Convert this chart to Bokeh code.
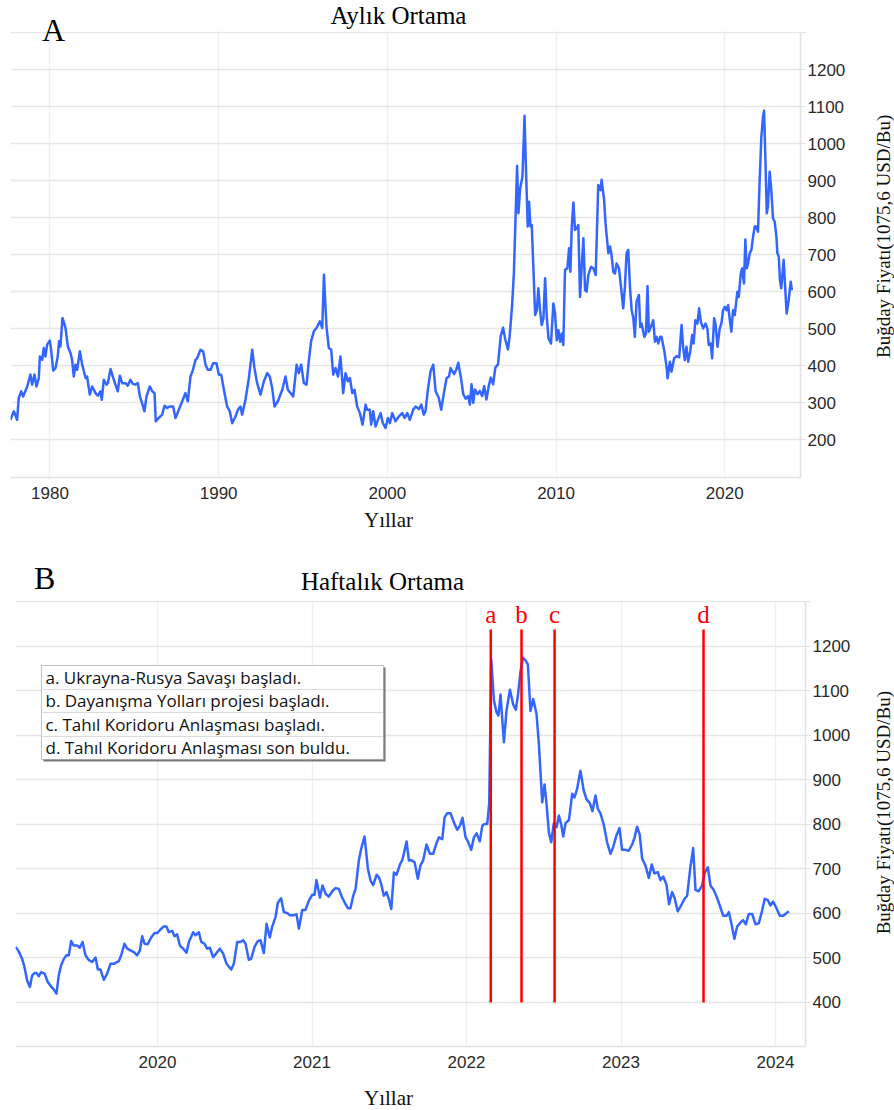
import math
from bokeh.plotting import figure
from bokeh.models import Range1d, FixedTicker, Label, BoxAnnotation
from bokeh.layouts import column, row
from bokeh.embed import file_html
from bokeh.resources import INLINE
from bokeh.core.properties import value

# ---------------- data: monthly average (chart A) ----------------
monthly_years = [
    1977.66, 1977.86, 1978.05, 1978.15, 1978.29, 1978.41, 1978.65, 1978.84, 1978.94, 1979.08, 1979.20, 1979.34, 1979.40, 1979.54, 1979.63, 1979.73, 1979.83, 1979.99,
    1980.07, 1980.19, 1980.33, 1980.46, 1980.54, 1980.62, 1980.74, 1980.92, 1981.06, 1981.22, 1981.31, 1981.41, 1981.51, 1981.61, 1981.77, 1981.91,
    1982.11, 1982.20, 1982.36, 1982.50, 1982.70, 1982.84, 1982.99, 1983.07, 1983.19, 1983.35, 1983.43, 1983.59, 1983.75, 1983.88,
    1984.02, 1984.14, 1984.28, 1984.48, 1984.61, 1984.77, 1984.91, 1985.07, 1985.21, 1985.33, 1985.46, 1985.60, 1985.72, 1985.92,
    1986.06, 1986.20, 1986.27, 1986.45, 1986.65, 1986.79, 1986.95, 1987.10, 1987.30, 1987.44, 1987.64, 1987.84,
    1988.03, 1988.17, 1988.33, 1988.45, 1988.63, 1988.73, 1988.92, 1989.08, 1989.22, 1989.36, 1989.52, 1989.67, 1989.87,
    1990.01, 1990.15, 1990.31, 1990.50, 1990.66, 1990.80, 1991.00, 1991.14, 1991.29, 1991.39, 1991.59, 1991.79, 1991.99,
    1992.12, 1992.28, 1992.48, 1992.68, 1992.88, 1993.03, 1993.17, 1993.31, 1993.51, 1993.77, 1993.96,
    1994.10, 1994.26, 1994.42, 1994.62, 1994.75, 1994.89, 1995.05, 1995.21, 1995.35, 1995.48, 1995.64, 1995.80,
    1996.00, 1996.14, 1996.24, 1996.39, 1996.53, 1996.67, 1996.79, 1996.93, 1997.07, 1997.22, 1997.38, 1997.52, 1997.66, 1997.78, 1997.92,
    1998.05, 1998.21, 1998.37, 1998.53, 1998.71, 1998.80, 1998.96, 1999.04, 1999.16, 1999.30, 1999.44, 1999.60, 1999.73, 1999.89,
    2000.03, 2000.15, 2000.29, 2000.48, 2000.68, 2000.88, 2001.02, 2001.18, 2001.33, 2001.53, 2001.67, 2001.87,
    2002.01, 2002.16, 2002.26, 2002.40, 2002.56, 2002.72, 2002.86, 2003.05, 2003.19, 2003.35, 2003.51, 2003.65, 2003.75,
    2003.95, 2004.09, 2004.20, 2004.36, 2004.50, 2004.64, 2004.79, 2004.89, 2004.99, 2005.09, 2005.19, 2005.34, 2005.48, 2005.62, 2005.74, 2005.87,
    2006.01, 2006.13, 2006.27, 2006.40, 2006.56, 2006.72, 2006.86, 2006.99, 2007.15, 2007.25, 2007.39, 2007.50,
    2007.69, 2007.77, 2007.87, 2008.01, 2008.13, 2008.21, 2008.32, 2008.40, 2008.48, 2008.56, 2008.76, 2008.86, 2008.95,
    2009.05, 2009.15, 2009.25, 2009.35, 2009.45, 2009.55, 2009.70, 2009.84, 2009.94,
    2010.04, 2010.14, 2010.24, 2010.34, 2010.43, 2010.53, 2010.67, 2010.77, 2010.85, 2010.93,
    2011.03, 2011.12, 2011.22, 2011.32, 2011.42, 2011.52, 2011.62, 2011.72, 2011.81, 2011.91,
    2012.07, 2012.21, 2012.35, 2012.50, 2012.64, 2012.70, 2012.84, 2012.94,
    2013.10, 2013.20, 2013.29, 2013.39, 2013.49, 2013.59, 2013.73, 2013.85, 2013.98,
    2014.08, 2014.18, 2014.28, 2014.38, 2014.48, 2014.58, 2014.67, 2014.77, 2014.91, 2014.99,
    2015.07, 2015.23, 2015.33, 2015.42, 2015.50, 2015.62, 2015.76, 2015.86, 2015.96,
    2016.06, 2016.17, 2016.25, 2016.41, 2016.55, 2016.61, 2016.75, 2016.84,
    2017.00, 2017.14, 2017.30, 2017.44, 2017.53, 2017.63, 2017.73, 2017.83, 2017.95,
    2018.07, 2018.15, 2018.26, 2018.38, 2018.48, 2018.58, 2018.72, 2018.86, 2018.97,
    2019.05, 2019.17, 2019.25, 2019.37, 2019.45, 2019.57, 2019.70, 2019.80, 2019.90,
    2020.00, 2020.10, 2020.20, 2020.30, 2020.39, 2020.49, 2020.59, 2020.75, 2020.83, 2020.95,
    2021.03, 2021.14, 2021.22, 2021.30, 2021.38, 2021.48, 2021.58, 2021.68, 2021.78, 2021.87, 2021.97,
    2022.07, 2022.17, 2022.27, 2022.33, 2022.41, 2022.49, 2022.56, 2022.66, 2022.76, 2022.86, 2022.96,
    2023.06, 2023.12, 2023.20, 2023.27, 2023.35, 2023.49, 2023.59, 2023.67, 2023.79, 2023.91, 2023.98,
]
monthly_price = [
    254, 277, 254, 313, 331, 317, 344, 376, 349, 376, 344, 367, 425, 416, 448, 425, 457, 468,
    443, 387, 394, 425, 466, 452, 529, 502, 452, 434, 416, 371, 403, 389, 439, 403,
    367, 371, 322, 344, 326, 319, 331, 308, 362, 349, 353, 391, 367, 349,
    331, 373, 353, 353, 346, 362, 351, 349, 353, 317, 299, 277, 317, 344,
    331, 326, 250, 259, 268, 292, 286, 290, 290, 259, 281, 304,
    326, 304, 371, 385, 416, 421, 443, 439, 403, 389, 389, 407, 407,
    376, 376, 335, 290, 277, 245, 263, 281, 290, 268, 308, 367, 443,
    394, 353, 322, 358, 380, 371, 340, 290, 304, 335, 371,
    335, 326, 317, 403, 380, 403, 353, 349, 416, 466, 493, 502,
    520, 502, 646, 506, 448, 443, 376, 394, 371, 425, 326, 380, 358, 367, 326,
    335, 290, 272, 241, 295, 281, 281, 241, 277, 236, 254, 272, 245, 232,
    259, 245, 272, 250, 263, 272, 259, 272, 254, 281, 290, 283,
    295, 268, 277, 335, 385, 403, 331, 313, 281, 326, 367, 371, 394,
    377, 390, 408, 368, 323, 311, 318, 295, 350, 300, 336, 323, 332, 318, 345, 309,
    345, 368, 350, 395, 404, 480, 503, 471, 444, 480, 561, 651,
    940, 812, 879, 911, 1075, 942, 776, 843, 776, 780, 537, 550, 609,
    550, 510, 528, 636, 532, 474, 460, 568, 541,
    469, 496, 465, 487, 456, 659, 663, 717, 654, 776,
    841, 767, 771, 780, 586, 667, 744, 604, 600, 645,
    667, 663, 645, 888, 874, 902, 852, 780,
    704, 722, 699, 654, 649, 676, 663, 613, 555,
    613, 704, 713, 613, 550, 528, 478, 573, 591, 505,
    514, 478, 487, 615, 492, 505, 523, 465, 478,
    460, 478, 478, 442, 397, 366, 411, 384,
    420, 426, 423, 510, 451, 415, 451, 411, 438,
    483, 460, 523, 514, 555, 519, 501, 514, 501,
    456, 460, 420, 528, 514, 451, 501, 514, 550,
    559, 550, 564, 523, 492, 550, 537, 600, 586, 649,
    663, 622, 741, 663, 676, 704, 713, 749, 776, 776, 762,
    902, 1019, 1073, 1089, 956, 812, 830, 924, 874, 798, 789,
    749, 704, 695, 632, 609, 686, 604, 541, 577, 627, 604,
]

# ---------------- data: weekly average (chart B) ----------------
weekly_years = [
    2019.081, 2019.100, 2019.124, 2019.139, 2019.156, 2019.174, 2019.189, 2019.204, 2019.217, 2019.232,
    2019.247, 2019.269, 2019.290, 2019.307, 2019.329, 2019.346, 2019.361, 2019.376, 2019.394, 2019.411,
    2019.426, 2019.441, 2019.458, 2019.480, 2019.497, 2019.515, 2019.534, 2019.556, 2019.577, 2019.599,
    2019.614, 2019.631, 2019.653, 2019.674, 2019.696, 2019.717, 2019.750, 2019.765, 2019.786, 2019.804,
    2019.825, 2019.847, 2019.868, 2019.886, 2019.901, 2019.916, 2019.937, 2019.959, 2019.981, 2019.998,
    2020.019, 2020.041, 2020.058, 2020.073, 2020.095, 2020.110, 2020.127, 2020.145, 2020.166, 2020.188,
    2020.203, 2020.231, 2020.246, 2020.268, 2020.283, 2020.304, 2020.321, 2020.339, 2020.360, 2020.382,
    2020.403, 2020.425, 2020.447, 2020.468, 2020.477, 2020.494, 2020.516, 2020.537, 2020.554, 2020.570,
    2020.591, 2020.606, 2020.628, 2020.649, 2020.667, 2020.688, 2020.706, 2020.727, 2020.742, 2020.764,
    2020.779, 2020.800, 2020.818, 2020.839, 2020.857, 2020.878, 2020.900, 2020.915, 2020.937, 2020.958,
    2020.980, 2021.001, 2021.016, 2021.029, 2021.051, 2021.068, 2021.088, 2021.109, 2021.131, 2021.152,
    2021.174, 2021.195, 2021.217, 2021.232, 2021.249, 2021.267, 2021.282, 2021.303, 2021.318, 2021.340,
    2021.362, 2021.379, 2021.396, 2021.418, 2021.433, 2021.448, 2021.465, 2021.482, 2021.497, 2021.513,
    2021.530, 2021.547, 2021.569, 2021.584, 2021.595, 2021.612, 2021.627, 2021.642, 2021.664, 2021.685,
    2021.702, 2021.720, 2021.741, 2021.763, 2021.784, 2021.806, 2021.821, 2021.843, 2021.858, 2021.875,
    2021.897, 2021.918, 2021.940, 2021.957, 2021.974, 2021.994, 2022.009, 2022.030, 2022.048, 2022.065,
    2022.086, 2022.102, 2022.117, 2022.134, 2022.147, 2022.160, 2022.177, 2022.194, 2022.207, 2022.220,
    2022.242, 2022.259, 2022.281, 2022.302, 2022.319, 2022.332, 2022.350, 2022.365, 2022.382, 2022.397,
    2022.414, 2022.432, 2022.453, 2022.468, 2022.490, 2022.505, 2022.518, 2022.533, 2022.548, 2022.565,
    2022.583, 2022.598, 2022.613, 2022.626, 2022.641, 2022.663, 2022.684, 2022.699, 2022.716, 2022.737,
    2022.759, 2022.776, 2022.798, 2022.815, 2022.835, 2022.850, 2022.867, 2022.888, 2022.910, 2022.932,
    2022.949, 2022.970, 2022.990, 2023.007, 2023.029, 2023.050, 2023.072, 2023.087, 2023.104, 2023.121,
    2023.137, 2023.158, 2023.180, 2023.199, 2023.216, 2023.238, 2023.255, 2023.273, 2023.294, 2023.311,
    2023.331, 2023.346, 2023.367, 2023.389, 2023.411, 2023.428, 2023.449, 2023.467, 2023.482, 2023.503,
    2023.525, 2023.542, 2023.562, 2023.579, 2023.600, 2023.622, 2023.639, 2023.661, 2023.682, 2023.698,
    2023.713, 2023.734, 2023.751, 2023.773, 2023.790, 2023.808, 2023.827, 2023.849, 2023.870, 2023.892,
    2023.913, 2023.930, 2023.950, 2023.967, 2023.984, 2024.006, 2024.028, 2024.049, 2024.064, 2024.086,
]
weekly_price = [
    525, 516, 498, 480, 450, 435, 461, 466, 466, 459,
    468, 465, 446, 438, 429, 420, 461, 483, 498, 506,
    506, 538, 528, 528, 523, 536, 506, 495, 491, 501,
    474, 474, 451, 465, 487, 487, 493, 506, 532, 521,
    517, 513, 506, 517, 549, 532, 531, 546, 556, 556,
    564, 571, 571, 558, 561, 549, 553, 528, 521, 512,
    536, 558, 551, 558, 536, 532, 521, 523, 502, 511,
    521, 510, 487, 478, 474, 487, 536, 536, 540, 532,
    496, 498, 525, 538, 540, 511, 577, 546, 570, 592,
    624, 634, 603, 601, 596, 596, 598, 566, 608, 608,
    629, 642, 642, 675, 636, 663, 644, 638, 650, 657,
    655, 636, 621, 612, 612, 640, 655, 719, 745, 773,
    700, 674, 664, 687, 681, 666, 640, 648, 633, 610,
    692, 687, 710, 720, 735, 762, 719, 720, 715, 678,
    708, 720, 755, 734, 734, 758, 771, 767, 816, 825,
    825, 805, 788, 797, 815, 771, 762, 743, 771, 780,
    762, 797, 801, 801, 848, 1172, 1080, 1052, 1045, 1092,
    985, 1056, 1103, 1070, 1058, 1088, 1145, 1175, 1169, 1160,
    1055, 1082, 1049, 983, 850, 890, 846, 782, 760, 803,
    794, 820, 800, 773, 803, 810, 869, 861, 880, 921,
    876, 857, 848, 830, 865, 835, 825, 800, 760, 734,
    749, 775, 792, 743, 743, 741, 755, 770, 795, 777,
    723, 708, 680, 710, 690, 693, 675, 683, 665, 621,
    648, 636, 605, 618, 633, 640, 704, 747, 653, 650,
    663, 692, 704, 663, 653, 635, 618, 595, 595, 603,
    580, 543, 570, 580, 585, 576, 599, 599, 576, 578,
    606, 633, 630, 618, 627, 612, 595, 595, 599, 605,
]

# events (chart B)
event_dates = [2022.157, 2022.356, 2022.570, 2023.534]
event_letters = ["a", "b", "c", "d"]
event_line_bottom = 400
event_line_top = 1238
legend_texts = [
    "a. Ukrayna-Rusya Savaşı başladı.",
    "b. Dayanışma Yolları projesi başladı.",
    "c. Tahıl Koridoru Anlaşması başladı.",
    "d. Tahıl Koridoru Anlaşması son buldu.",
]

# ticks
a_xticks = [1980, 1990, 2000, 2010, 2020]
a_yticks = [200, 300, 400, 500, 600, 700, 800, 900, 1000, 1100, 1200, 1300]
b_xticks = [2020, 2021, 2022, 2023, 2024]
b_yticks = [400, 500, 600, 700, 800, 900, 1000, 1100, 1200, 1300]
GRID_TOP = 1300

Y_TITLE = "Buğday Fiyatı(1075,6 USD/Bu)"
X_TITLE = "Yıllar"
BLUE = "#3366ff"
SERIF = "Liberation Serif"
SANS = "Liberation Sans"


def style(p, xticks, yticks, y_low):
    p.outline_line_color = None
    p.background_fill_color = "white"
    p.border_fill_color = "white"
    p.xaxis.ticker = FixedTicker(ticks=xticks)
    p.yaxis.ticker = FixedTicker(ticks=yticks)
    p.yaxis.major_label_overrides = {GRID_TOP: ""}
    p.yaxis.bounds = (y_low, GRID_TOP)
    for ax in (p.xaxis[0], p.yaxis[0]):
        ax.axis_line_color = "#e2e2e2"
        ax.axis_line_width = 1.5
        ax.minor_tick_line_color = None
        ax.major_label_text_font = SANS
        ax.major_label_text_font_size = "17px"
        ax.major_label_text_color = "#2a2a2a"
    p.yaxis.major_tick_line_color = "#e2e2e2"
    p.yaxis.major_tick_out = 5
    p.yaxis.major_tick_in = 0
    p.yaxis.major_label_standoff = 2
    p.xaxis.major_tick_line_color = None
    p.xaxis.major_tick_out = 0
    p.xaxis.major_label_standoff = 9
    p.xgrid.grid_line_color = "#edf1f7"
    p.xgrid.grid_line_width = 1.5
    p.ygrid.grid_line_color = "#e6e6e6"
    p.ygrid.grid_line_width = 1.5
    # blank the header strip above the top grid line (covers vertical grid lines there)
    p.add_layout(BoxAnnotation(bottom=GRID_TOP + 3, fill_color="white", fill_alpha=1.0,
                               line_color=None, level="underlay"))


def text_label(x, y, text, size, color="#000000", align="center", font=SERIF, angle=0.0):
    return Label(x=x, y=y, text=text, text_font=font, text_font_size=size, angle=angle,
                 text_color=color, text_align=align, text_baseline="middle")


def strip(width, height):
    """A bare figure (no axes) whose data units are pixels; used for axis titles."""
    s = figure(width=width, height=height, output_backend="svg", toolbar_location=None,
               title=None, x_axis_type=None, y_axis_type=None,
               x_range=Range1d(0, width), y_range=Range1d(0, height),
               min_border_left=0, min_border_right=0, min_border_top=0, min_border_bottom=0)
    s.outline_line_color = None
    s.background_fill_color = "white"
    s.border_fill_color = "white"
    return s


# ---------------- chart A ----------------
A_Y = (98.2, 1375.6)
pA = figure(width=862, height=508, output_backend="svg", toolbar_location=None,
            title=None, y_axis_location="right",
            x_range=Range1d(1977.66, 2024.49), y_range=Range1d(*A_Y),
            min_border_left=10, min_border_right=62, min_border_top=4, min_border_bottom=31)
style(pA, a_xticks, a_yticks, A_Y[0])
pA.line(monthly_years, monthly_price, line_color=BLUE, line_width=2.5, line_join="round")
pA.add_layout(text_label(1980.21, 1306, "A", "32px"))
pA.add_layout(text_label(2000.66, 1347, "Aylık Ortama", "25px"))

tA = strip(32, 508)
tA.add_layout(text_label(21, 259, Y_TITLE, "19px", color="#111111", angle=math.pi / 2))
sA = strip(894, 32)
sA.add_layout(text_label(388, 21, X_TITLE, "21px", color="#111111"))

# ---------------- chart B ----------------
B_Y = (301.1, 1386.5)
pB = figure(width=862, height=537, output_backend="svg", toolbar_location=None,
            title=None, y_axis_location="right",
            x_range=Range1d(2019.081, 2024.194), y_range=Range1d(*B_Y),
            min_border_left=15, min_border_right=57, min_border_top=23, min_border_bottom=31)
style(pB, b_xticks, b_yticks, B_Y[0])
pB.line(weekly_years, weekly_price, line_color=BLUE, line_width=2.5, line_join="round")

pB.segment(x0=event_dates, y0=[event_line_bottom] * len(event_dates),
           x1=event_dates, y1=[event_line_top] * len(event_dates),
           line_color="#ff0000", line_width=2.5)
pB.text(x=event_dates, y=[1272.6] * len(event_dates), text=event_letters,
        text_font=value(SERIF), text_font_size="25px", text_color="#ff0000",
        text_align="center", text_baseline="middle")

# note box with the event explanations (drawn in chart B data units)
box_left, box_right = 2019.249, 2021.463
row_edges = [1157.3, 1103.4, 1051.7, 997.8, 946.1]
pB.add_layout(BoxAnnotation(left=box_left + 0.013, right=box_right + 0.013,
                            top=row_edges[0] - 4.5, bottom=row_edges[-1] - 4.5,
                            fill_color="#7a7a7a", fill_alpha=1.0, line_color=None))
for i in range(len(legend_texts)):
    pB.add_layout(BoxAnnotation(left=box_left, right=box_right,
                                top=row_edges[i], bottom=row_edges[i + 1],
                                fill_color="white", fill_alpha=1.0,
                                line_color="#d2d2d2", line_width=1))
pB.add_layout(BoxAnnotation(left=box_left, right=box_right, top=row_edges[0], bottom=row_edges[-1],
                            fill_color=None, fill_alpha=0.0, line_color="#5a5a5a", line_width=1))
for i, txt in enumerate(legend_texts):
    pB.add_layout(text_label(box_left + 0.026, (row_edges[i] + row_edges[i + 1]) / 2, txt, "17px",
                             color="#111111", align="left", font="Open Sans"))

pB.add_layout(text_label(2019.269, 1354, "B", "32px"))
pB.add_layout(text_label(2021.456, 1346, "Haftalık Ortama", "25px"))

tB = strip(32, 537)
tB.add_layout(text_label(21, 260, Y_TITLE, "19px", color="#111111", angle=math.pi / 2))
sB = strip(894, 32)
sB.add_layout(text_label(388, 12, X_TITLE, "21px", color="#111111"))

layout = column(row(pA, tA, spacing=0), sA, row(pB, tB, spacing=0), sB, spacing=0)
open("out.html", "w").write(file_html(layout, INLINE))
